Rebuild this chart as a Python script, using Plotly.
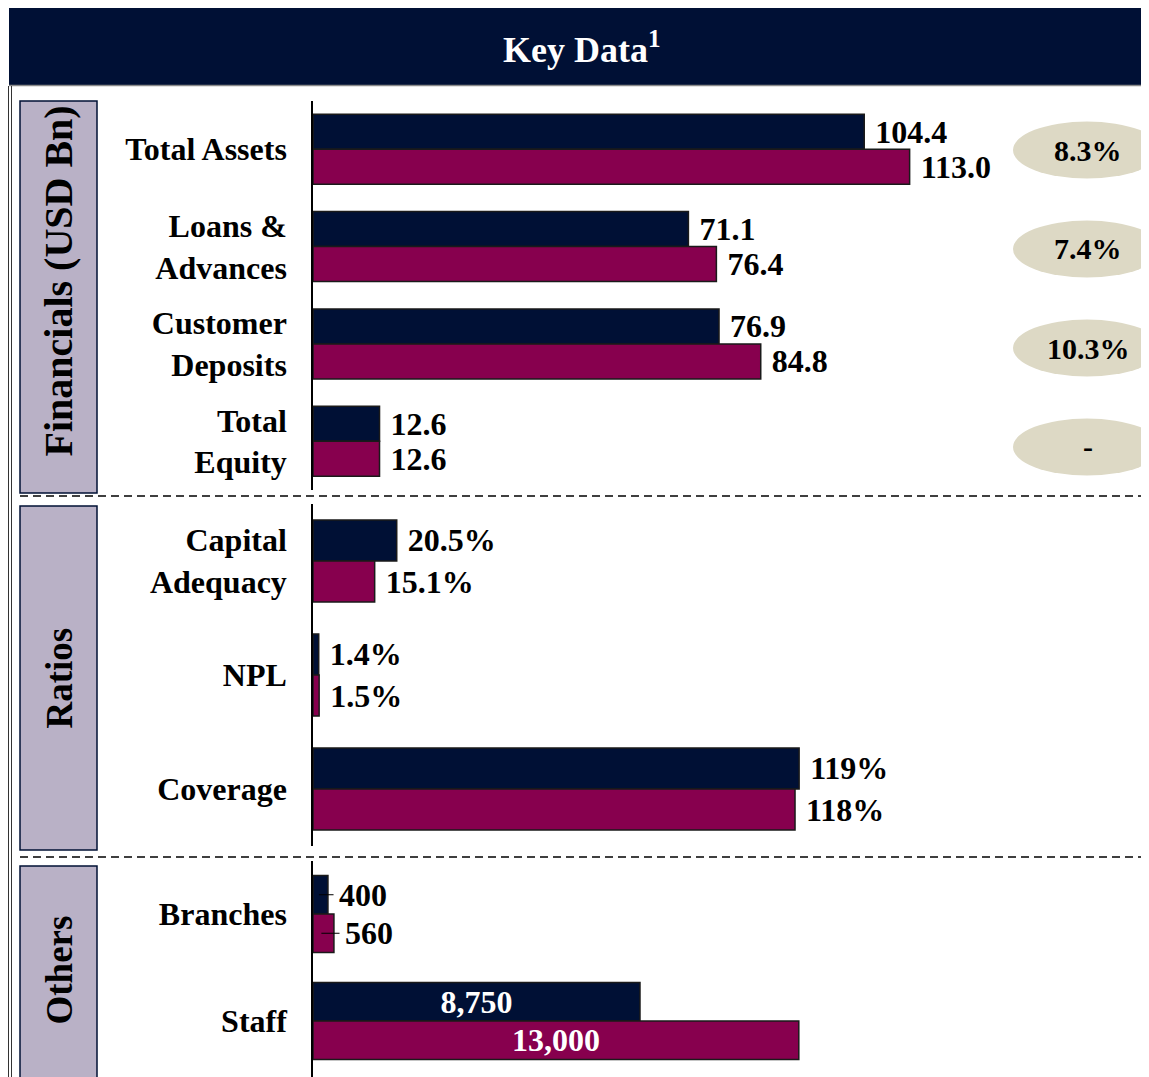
import plotly.graph_objects as go

# ---------------- data ----------------
fin_categories = ["Total Assets", "Loans &<br>Advances", "Customer<br>Deposits", "Total<br>Equity"]
fin_prev = [104.4, 71.1, 76.9, 12.6]
fin_curr = [113.0, 76.4, 84.8, 12.6]
fin_growth = ["8.3%", "7.4%", "10.3%", "-"]

ratio_categories = ["Capital<br>Adequacy", "NPL", "Coverage"]
ratio_prev = [20.5, 1.4, 119]
ratio_curr = [15.1, 1.5, 118]
ratio_prev_labels = ["20.5%", "1.4%", "119%"]
ratio_curr_labels = ["15.1%", "1.5%", "118%"]

other_categories = ["Branches", "Staff"]
other_prev = [400, 8750]
other_curr = [560, 13000]

section_titles = ["Financials (USD Bn)", "Ratios", "Others"]
header_title = "Key Data<sup>1</sup>"

# ---------------- style ----------------
OFF = 8  # page body margin
W, H = 1141, 1069
NAVY = "#001035"
MAROON = "#87004E"
LAV = "#B9B1C6"
BEIGE = "#DDD9C5"
FONT = "Liberation Serif, Times New Roman, serif"
OUTLINE = dict(color="#1a1a1a", width=1.5)
NB = "\u00a0"


def px(x):
    return (x - OFF) / W


def py(y):
    return 1 - (y - OFF) / H


fig = go.Figure()


def add_pair(cats, prev, curr, prev_txt, curr_txt, xa, ya, pos_prev="outside", pos_curr="outside",
             col_prev="black", col_curr="black"):
    fig.add_trace(go.Bar(
        y=cats, x=prev, orientation="h", marker=dict(color=NAVY, line=OUTLINE),
        text=prev_txt, textposition=pos_prev, insidetextanchor="middle",
        textfont=dict(family=FONT, size=32, color=col_prev, weight="bold"),
        constraintext="none", cliponaxis=False, xaxis=xa, yaxis=ya, showlegend=False,
        hoverinfo="skip"))
    fig.add_trace(go.Bar(
        y=cats, x=curr, orientation="h", marker=dict(color=MAROON, line=OUTLINE),
        text=curr_txt, textposition=pos_curr, insidetextanchor="middle",
        textfont=dict(family=FONT, size=32, color=col_curr, weight="bold"),
        constraintext="none", cliponaxis=False, xaxis=xa, yaxis=ya, showlegend=False,
        hoverinfo="skip"))


add_pair(fin_categories, fin_prev, fin_curr,
         [NB + f"{v:.1f}" for v in fin_prev], [NB + f"{v:.1f}" for v in fin_curr], "x", "y")
add_pair(ratio_categories, ratio_prev, ratio_curr,
         [NB + t for t in ratio_prev_labels], [NB + t for t in ratio_curr_labels], "x2", "y2")
add_pair(other_categories, other_prev, other_curr,
         [NB + f"{other_prev[0]:,.0f}", f"{other_prev[1]:,.0f}"],
         [NB + f"{other_curr[0]:,.0f}", f"{other_curr[1]:,.0f}"], "x3", "y3",
         pos_prev=["outside", "inside"], pos_curr=["outside", "inside"],
         col_prev=["black", "white"], col_curr=["black", "white"])

xdom = [px(313), 1]
xcommon = dict(domain=xdom, showline=False, showgrid=False, zeroline=False,
               showticklabels=False, fixedrange=True)
ycommon = dict(showline=True, linecolor="black", linewidth=1.5, ticks="", showgrid=False,
               zeroline=False, ticklabelstandoff=18,
               tickfont=dict(family=FONT, size=32, color="black", weight="bold"))

BGAP = 0.28
fig.update_layout(
    width=W, height=H, margin=dict(l=0, r=0, t=0, b=0),
    paper_bgcolor="white", plot_bgcolor="rgba(0,0,0,0)",
    barmode="group", bargap=BGAP, bargroupgap=0,
    xaxis=dict(**xcommon, range=[0, 836 / 5.28], anchor="y"),
    yaxis=dict(**ycommon, domain=[py(490), py(100.5)], range=[len(fin_categories) - 0.5, -0.5],
               anchor="x", type="category"),
    xaxis2=dict(**xcommon, range=[0, 836 / 4.085], anchor="y2"),
    yaxis2=dict(**ycommon, domain=[py(846), py(504)], range=[len(ratio_categories) - 0.5, -0.5],
                anchor="x2", type="category"),
    xaxis3=dict(**xcommon, range=[0, 836 / 0.03737], anchor="y3"),
    yaxis3=dict(**ycommon, domain=[0, py(860.5)], range=[-0.5 + (1077 - 860.5) / 107, -0.5],
                anchor="x3", type="category"),
)

shapes = []
annotations = []

# header band
shapes.append(dict(type="rect", xref="paper", yref="paper", x0=px(9), x1=1, y0=py(85), y1=1,
                   fillcolor=NAVY, line=dict(width=0), layer="below"))
shapes.append(dict(type="line", xref="paper", yref="paper", x0=px(9), x1=1, y0=py(85.5), y1=py(85.5),
                   line=dict(color="#8a8a8a", width=1.5)))
annotations.append(dict(text=header_title, xref="paper", yref="paper", x=px(582), y=py(47),
                        showarrow=False, xanchor="center", yanchor="middle",
                        font=dict(family=FONT, size=36, color="white", weight="bold")))

# left double border
for xl in (8.5, 11.5):
    shapes.append(dict(type="line", xref="paper", yref="paper", x0=px(xl), x1=px(xl),
                       y0=py(86), y1=0, line=dict(color="#333333", width=1)))

# section boxes + titles
boxes = [(101, 493), (506, 850), (866, 1090)]
title_y = [281, 678, 970]
title_size = [40, 37, 37]
for (y0, y1), t, ty, ts in zip(boxes, section_titles, title_y, title_size):
    shapes.append(dict(type="rect", xref="paper", yref="paper", x0=px(20), x1=px(97),
                       y0=py(y1), y1=py(y0), fillcolor=LAV, line=dict(color=NAVY, width=1.5),
                       layer="below"))
    annotations.append(dict(text=t, xref="paper", yref="paper", x=px(58.5), y=py(ty),
                            textangle=-90, showarrow=False, xanchor="center", yanchor="middle",
                            font=dict(family=FONT, size=ts, color="black", weight="bold")))

# dashed separators
for yd in (496, 857):
    shapes.append(dict(type="line", xref="paper", yref="paper", x0=px(20), x1=1, y0=py(yd), y1=py(yd),
                       line=dict(color="black", width=1.5, dash="8px,5px")))

# growth ellipses
ell_y = [150, 249, 348, 447]
for g, ey in zip(fin_growth, ell_y):
    shapes.append(dict(type="circle", xref="paper", yref="paper", x0=px(1013), x1=px(1161),
                       y0=py(ey + 28.5), y1=py(ey - 28.5), fillcolor=BEIGE, line=dict(width=0),
                       layer="below"))
    annotations.append(dict(text=g, xref="paper", yref="paper", x=px(1088), y=py(ey),
                            showarrow=False, xanchor="center", yanchor="middle",
                            font=dict(family=FONT, size=30, color="black", weight="bold")))

# leader ticks for branch labels
half = (1 - BGAP) / 4
for v, off in zip([other_prev[0], other_curr[0]], [-half, half]):
    shapes.append(dict(type="line", xref="x3", yref="y3", x0=v * 0.4, x1=v + 150,
                       y0=0 + off, y1=0 + off, line=dict(color="black", width=1)))

fig.update_layout(shapes=shapes, annotations=annotations)
fig.write_html(
    "out.html",
    post_script="document.documentElement.style.overflow='hidden';document.body.style.overflow='hidden';",
)
